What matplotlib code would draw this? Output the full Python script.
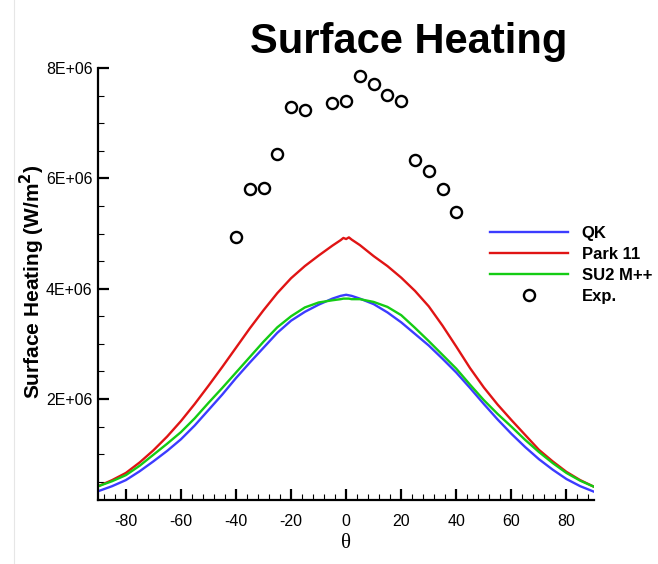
import numpy as np
import matplotlib
matplotlib.use("Agg")
import matplotlib.pyplot as plt
from matplotlib.ticker import MultipleLocator, FuncFormatter
from matplotlib.lines import Line2D

plt.rcParams['font.family'] = ['Liberation Sans', 'DejaVu Sans']
plt.rcParams['axes.unicode_minus'] = False

# surface heating along the body, W/m^2 (in units of 1E+06)
theta = [-90, -85, -80, -75, -70, -65, -60, -55, -50, -45, -40, -35, -30, -25,
         -20, -15, -10, -5, -2, -1, 0, 1, 2, 5, 10, 15, 20, 25, 30, 35, 40,
         45, 50, 55, 60, 65, 70, 75, 80, 85, 90]

qk = [0.33, 0.42, 0.53, 0.69, 0.87, 1.06, 1.27, 1.52, 1.80, 2.08, 2.38, 2.66,
      2.93, 3.20, 3.42, 3.58, 3.71, 3.82, 3.87, 3.88, 3.89, 3.88, 3.87, 3.82,
      3.72, 3.57, 3.39, 3.18, 2.97, 2.73, 2.48, 2.20, 1.91, 1.63, 1.37, 1.13,
      0.91, 0.72, 0.55, 0.42, 0.32]

park11 = [0.42, 0.53, 0.66, 0.85, 1.07, 1.32, 1.60, 1.91, 2.24, 2.58, 2.93,
          3.28, 3.61, 3.92, 4.19, 4.41, 4.60, 4.78, 4.88, 4.92, 4.90, 4.93,
          4.89, 4.79, 4.59, 4.41, 4.20, 3.96, 3.68, 3.33, 2.95, 2.56, 2.21,
          1.90, 1.62, 1.35, 1.08, 0.87, 0.68, 0.53, 0.41]

su2 = [0.42, 0.51, 0.62, 0.79, 0.99, 1.19, 1.40, 1.65, 1.93, 2.20, 2.48, 2.76,
       3.04, 3.30, 3.50, 3.66, 3.75, 3.79, 3.81, 3.82, 3.82, 3.82, 3.81, 3.81,
       3.76, 3.67, 3.52, 3.29, 3.05, 2.80, 2.55, 2.26, 1.98, 1.73, 1.50, 1.26,
       1.04, 0.84, 0.66, 0.52, 0.41]

exp_theta = [-40, -35, -30, -25, -20, -15, -5, 0, 5, 10, 15, 20, 25, 30, 35, 40]
exp_q = [4.94, 5.81, 5.83, 6.45, 7.30, 7.24, 7.37, 7.40, 7.86, 7.71, 7.51,
         7.41, 6.33, 6.14, 5.81, 5.39]

scale = 1e6

fig = plt.figure(figsize=(6.58, 5.64), dpi=100)
ax = fig.add_axes([0.1494, 0.1135, 0.7533, 0.7659])

ax.plot(theta, np.array(qk) * scale, color='#3c3cff', lw=1.7, label='QK')
ax.plot(theta, np.array(park11) * scale, color='#e01414', lw=1.7, label='Park 11')
ax.plot(theta, np.array(su2) * scale, color='#14cc14', lw=1.7, label='SU2 M++')
ax.plot(exp_theta, np.array(exp_q) * scale, 'o', ms=8, mfc='none', mec='black',
        mew=1.7, label='Exp.')

ax.set_xlim(-90, 90)
ax.set_ylim(0.17e6, 8e6)

ax.xaxis.set_major_locator(MultipleLocator(20))
ax.xaxis.set_minor_locator(MultipleLocator(4))
ax.yaxis.set_major_locator(MultipleLocator(2e6))
ax.yaxis.set_minor_locator(MultipleLocator(0.5e6))
ax.yaxis.set_major_formatter(FuncFormatter(lambda v, p: '%dE+06' % round(v / 1e6)))

for side in ['top', 'right']:
    ax.spines[side].set_visible(False)
for side in ['left', 'bottom']:
    ax.spines[side].set_linewidth(1.6)

ax.tick_params(which='major', direction='in', length=8, width=1.6, labelsize=11.5)
ax.tick_params(which='minor', direction='in', length=4.5, width=0.8)
ax.tick_params(axis='x', which='major', pad=10)
ax.tick_params(axis='y', which='major', pad=4)

ax.set_xlabel('θ', fontsize=15, family='Liberation Serif', labelpad=4)
fig.text(32 / 658, 1 - 282 / 564, r'Surface Heating (W/m$^\mathbf{2}$)', rotation=90,
         fontsize=15, fontweight='bold', ha='center', va='center')

fig.text(409 / 658, 1 - 42 / 564, 'Surface Heating', fontsize=30, fontweight='bold',
         ha='center', va='center')

leg = ax.legend(loc='upper left', bbox_to_anchor=((490 - 98.3) / 495.7, (500 - 226) / 432),
                frameon=False, handlelength=4.7, handletextpad=0.8, labelspacing=0.36,
                prop={'weight': 'bold', 'size': 12}, borderaxespad=0, borderpad=0)

# faint border line on the left of the page
fig.add_artist(Line2D([13.5 / 658, 13.5 / 658], [0, 1], color='#e6e6e6', lw=0.8))

fig.savefig('out.png', dpi=100)
